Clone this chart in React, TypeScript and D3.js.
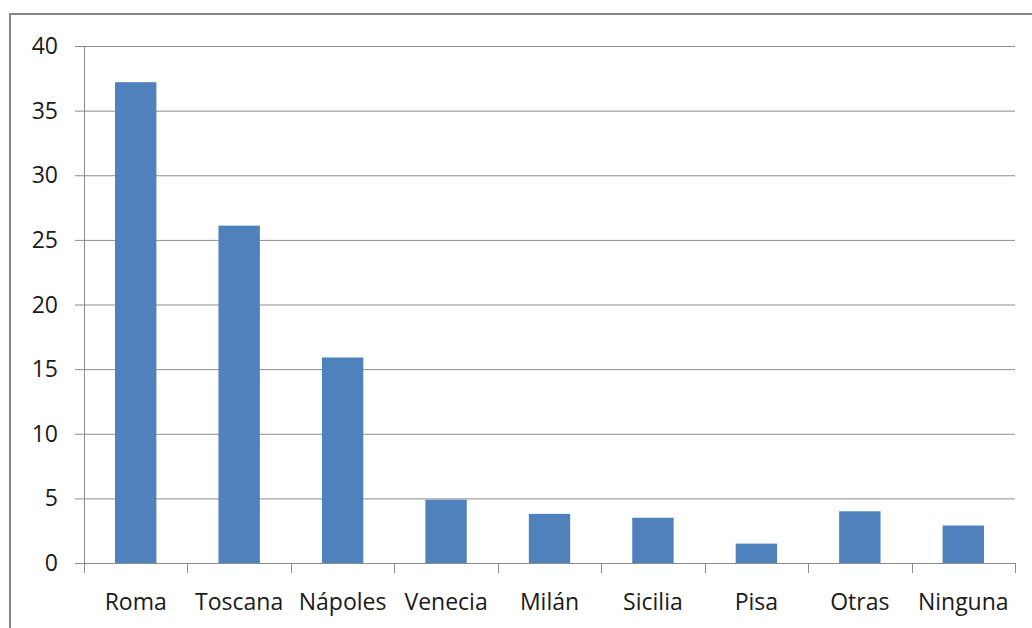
import React, { useRef, useEffect } from "react";
import * as d3 from "d3";

const categories = ["Roma", "Toscana", "Nápoles", "Venecia", "Milán", "Sicilia", "Pisa", "Otras", "Ninguna"];
const values = [37.2, 26.1, 15.9, 4.9, 3.8, 3.5, 1.5, 4.0, 2.9];
const yTicks = [0, 5, 10, 15, 20, 25, 30, 35, 40];

const App = () => {
  const ref = useRef<SVGSVGElement>(null);

  useEffect(() => {
    const svg = d3.select(ref.current);
    svg.selectAll("*").remove();
    const left = 84, right = 1015, top = 46, bottom = 563;

    const x = d3.scaleBand().domain(categories).range([left, right]).paddingInner(0.6).paddingOuter(0.3);
    const xb = d3.scaleBand().domain(categories).range([left, right]);
    const y = d3.scaleLinear().domain([0, 40]).range([bottom, top]);

    // outer frame
    svg.append("rect")
      .attr("x", 10).attr("y", 14).attr("width", 1040).attr("height", 640)
      .attr("fill", "none").attr("stroke", "#868686").attr("stroke-width", 2);

    // gridlines + y ticks
    svg.selectAll(".grid")
      .data(yTicks)
      .join("line")
      .attr("x1", left - 9).attr("x2", right)
      .attr("y1", (d) => y(d) + 0.5).attr("y2", (d) => y(d) + 0.5)
      .attr("stroke", "#8c8c8c").attr("stroke-width", 1);

    svg.selectAll(".ylab")
      .data(yTicks)
      .join("text")
      .attr("x", 58).attr("y", (d) => y(d) + 8)
      .attr("text-anchor", "end")
      .attr("font-family", "Open Sans, sans-serif")
      .attr("font-size", 23)
      .attr("fill", "#1a1a1a")
      .text((d) => d);

    // y axis line
    svg.append("line")
      .attr("x1", left + 0.5).attr("x2", left + 0.5)
      .attr("y1", top).attr("y2", bottom)
      .attr("stroke", "#8c8c8c");

    // bars
    svg.selectAll(".bar")
      .data(values)
      .join("rect")
      .attr("x", (d, i) => x(categories[i]) as number)
      .attr("width", x.bandwidth())
      .attr("y", (d) => y(d))
      .attr("height", (d) => bottom - y(d))
      .attr("fill", "#4f81bd");

    // x category ticks
    const edges = categories.map((c) => xb(c) as number).concat([right]);
    svg.selectAll(".xtick")
      .data(edges)
      .join("line")
      .attr("x1", (d) => Math.round(d) + 0.5).attr("x2", (d) => Math.round(d) + 0.5)
      .attr("y1", bottom).attr("y2", bottom + 10)
      .attr("stroke", "#8c8c8c");

    svg.selectAll(".xlab")
      .data(categories)
      .join("text")
      .attr("x", (d) => (xb(d) as number) + xb.bandwidth() / 2)
      .attr("y", 610)
      .attr("text-anchor", "middle")
      .attr("font-family", "Open Sans, sans-serif")
      .attr("font-size", 23)
      .attr("fill", "#1a1a1a")
      .text((d) => d);
  }, []);

  return (
    <svg ref={ref} width={1032} height={628} style={{ position: "absolute", left: 0, top: 0, background: "#fff" }} />
  );
};

export default App;
